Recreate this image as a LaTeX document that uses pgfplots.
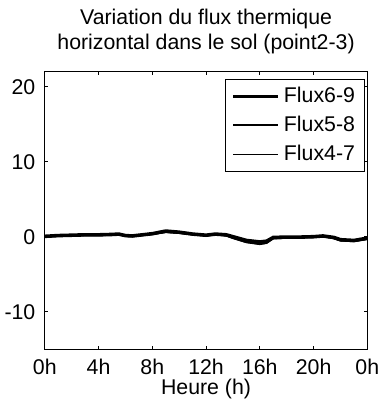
\documentclass[border=0pt]{standalone}
\usepackage{pgfplots}
\pgfplotsset{compat=1.18}
\usepackage{fontspec}
\setmainfont{Liberation Sans}

\begin{document}
\fontsize{10.7}{12.5}\selectfont
\begin{tikzpicture}
\begin{axis}[
    name=ax,
    scale only axis,
    width=162pt, height=139.4pt,
    xmin=0, xmax=24, ymin=-15, ymax=22,
    xtick={0,4,8,12,16,20,24},
    xticklabels={0h,4h,8h,12h,16h,20h,0h},
    ytick={-10,0,10,20},
    yticklabels={-10,0,10,20},
    tick align=inside,
    major tick length=1.6pt,
    tick style={black, line width=0.4pt},
    axis line style={line width=0.6pt},
    every tick label/.append style={font=\fontsize{10.7}{12.5}\selectfont},
    xticklabel style={yshift=-1pt},
    yticklabel style={xshift=-1pt},
    title={Variation du flux thermique\\horizontal dans le sol (point2-3)},
    title style={align=center, font=\fontsize{10.7}{12.5}\selectfont, yshift=-1pt},
    xlabel={Heure (h)},
    xlabel style={yshift=5pt, font=\fontsize{10.7}{12.5}\selectfont},
    legend style={at={(rel axis cs:0.994,0.975)}, anchor=north east,
        draw=black, line width=0.5pt, font=\fontsize{10.7}{12.5}\selectfont,
        row sep=1.2pt, inner xsep=3pt, inner ysep=2pt},
    legend cell align=left,
    legend image code/.code={\draw[#1] (0cm,0cm) -- (22.5pt,0cm);},
]
\addplot[black, line width=1.8pt] coordinates {
(0,0.05) (1,0.15) (2,0.2) (3,0.25) (4,0.25) (5,0.3) (5.5,0.35) (6,0.15)
(6.5,0.1) (7,0.2) (8,0.4) (9,0.75) (10,0.6) (11,0.35) (12,0.2) (12.7,0.35)
(13.5,0.25) (14,0.0) (15,-0.5) (16,-0.7) (16.5,-0.6) (17,-0.1) (18,-0.05)
(19,-0.05) (20,0.0) (20.7,0.1) (21.5,-0.1) (22,-0.4) (23,-0.5) (24,-0.2)
};
\addlegendentry{Flux6-9}
\addplot[black, line width=1.0pt] coordinates {
(0,0.0) (1,0.1) (2,0.15) (3,0.2) (4,0.2) (5,0.25) (5.5,0.3) (6,0.1)
(6.5,0.05) (7,0.15) (8,0.35) (9,0.65) (10,0.5) (11,0.3) (12,0.15) (12.7,0.3)
(13.5,0.15) (14,-0.15) (15,-0.7) (16,-0.95) (16.5,-0.8) (17,-0.2) (18,-0.15)
(19,-0.1) (20,-0.05) (20.7,0.05) (21.5,-0.2) (22,-0.5) (23,-0.6) (24,-0.3)
};
\addlegendentry{Flux5-8}
\addplot[black, line width=0.5pt] coordinates {
(0,-0.05) (1,0.05) (2,0.1) (3,0.15) (4,0.15) (5,0.2) (5.5,0.25) (6,0.05)
(6.5,0.0) (7,0.1) (8,0.3) (9,0.55) (10,0.45) (11,0.25) (12,0.1) (12.7,0.25)
(13.5,0.1) (14,-0.25) (15,-0.8) (16,-1.05) (16.5,-0.9) (17,-0.3) (18,-0.2)
(19,-0.15) (20,-0.1) (20.7,0.0) (21.5,-0.25) (22,-0.55) (23,-0.65) (24,-0.35)
};
\addlegendentry{Flux4-7}
\end{axis}
\pgfresetboundingbox
\path[use as bounding box] ([xshift=-22.5pt,yshift=-26pt]ax.south west)
    rectangle ([xshift=5.5pt,yshift=36pt]ax.north east);
\end{tikzpicture}
\end{document}
